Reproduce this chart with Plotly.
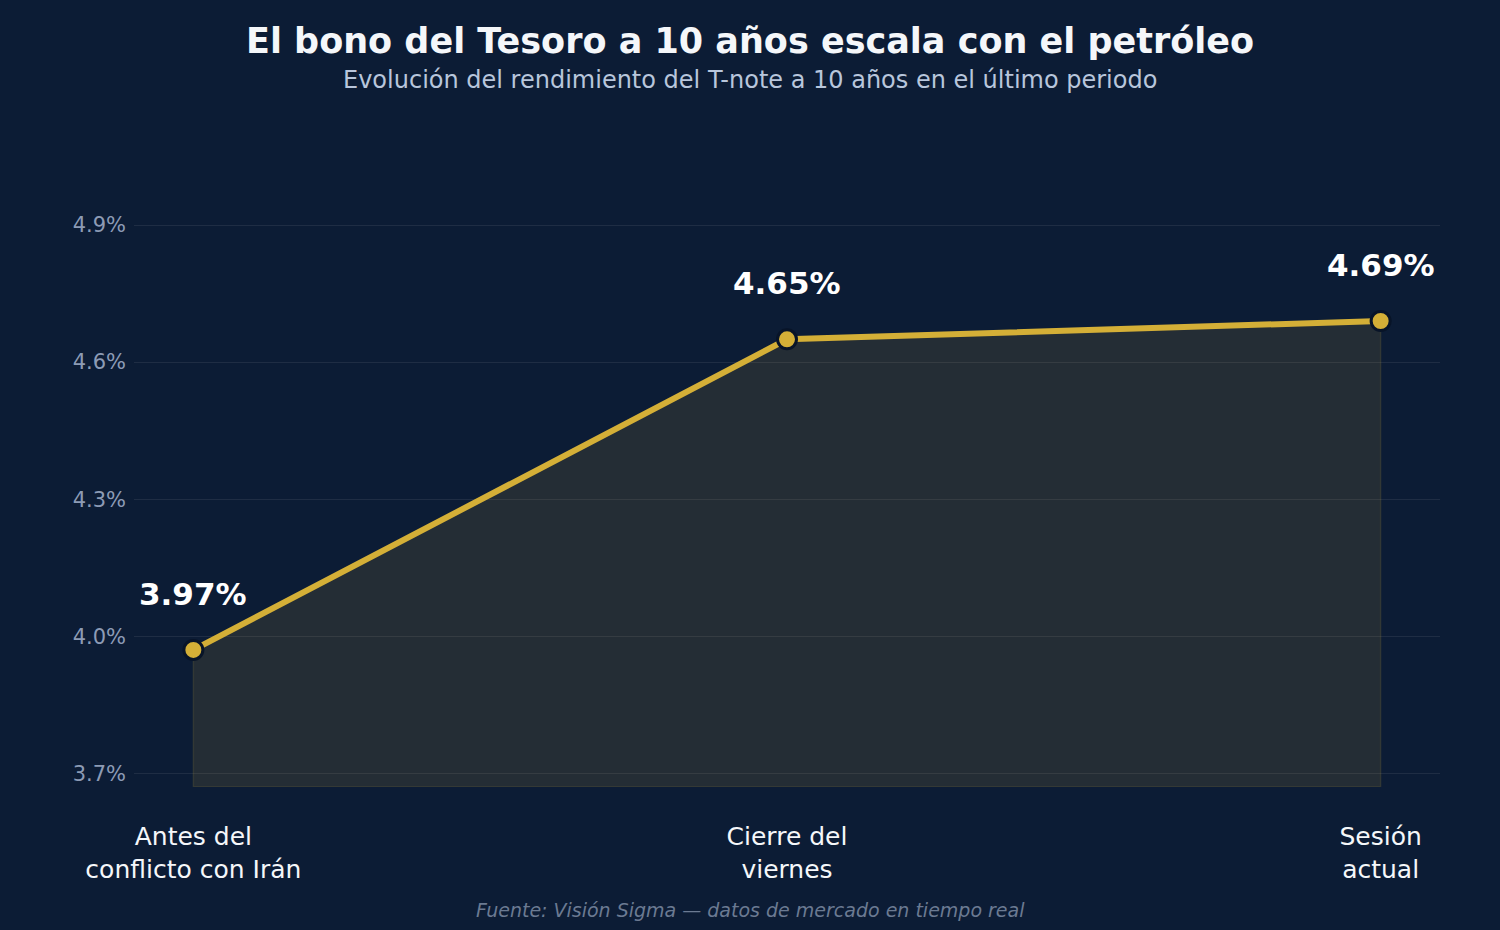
import plotly.graph_objects as go

categories = ["Antes del<br>conflicto con Irán", "Cierre del<br>viernes", "Sesión<br>actual"]
values = [3.97, 4.65, 4.69]
labels = ["3.97%", "4.65%", "4.69%"]
tick_vals = [3.7, 4.0, 4.3, 4.6, 4.9]
tick_text = ["3.7%", "4.0%", "4.3%", "4.6%", "4.9%"]
y_base = 3.67
y_top = 5.13

BG = "#0c1c35"
GOLD = "#d4af37"
FONT = "DejaVu Sans"

xs = list(range(len(categories)))

fig = go.Figure()

# filled area polygon
fig.add_trace(go.Scatter(
    x=xs + [xs[-1], xs[0], xs[0]],
    y=values + [y_base, y_base, values[0]],
    mode="lines",
    fill="toself",
    fillcolor="rgba(212,175,55,0.12)",
    line=dict(color="rgba(212,175,55,0.13)", width=1.5),
    hoverinfo="skip",
    showlegend=False,
))

fig.add_trace(go.Scatter(
    x=xs, y=values,
    mode="lines+markers",
    line=dict(color=GOLD, width=6),
    marker=dict(size=19, color=GOLD, line=dict(color="#081428", width=3)),
    showlegend=False,
))

for x, v, t in zip(xs, values, labels):
    fig.add_annotation(
        x=x, y=v, text=f"<b>{t}</b>", showarrow=False,
        yshift=56, font=dict(family=FONT, size=31, color="#ffffff"),
    )

# title / subtitle / footer (centred on the page, not the plot area)
fig.add_annotation(
    x=0.5, y=1, xref="paper", yref="paper", yanchor="middle", yshift=79, xshift=-37,
    text="<b>El bono del Tesoro a 10 años escala con el petróleo</b>",
    showarrow=False, font=dict(family=FONT, size=35, color="#f5f7fa"),
)
fig.add_annotation(
    x=0.5, y=1, xref="paper", yref="paper", yanchor="middle", yshift=40, xshift=-37,
    text="Evolución del rendimiento del T-note a 10 años en el último periodo",
    showarrow=False, font=dict(family=FONT, size=24, color="#b8c6dc"),
)
fig.add_annotation(
    x=0.5, y=0, xref="paper", yref="paper", yanchor="middle", yshift=-123, xshift=-37,
    text="<i>Fuente: Visión Sigma — datos de mercado en tiempo real</i>",
    showarrow=False, font=dict(family=FONT, size=19, color="#6b7a92"),
)

fig.update_layout(
    width=1500, height=930,
    paper_bgcolor=BG, plot_bgcolor=BG,
    margin=dict(l=134, r=60, t=120, b=143),
    font=dict(family=FONT),
    xaxis=dict(
        range=[-0.1, 2.1], tickvals=xs, ticktext=categories,
        showgrid=False, zeroline=False, showline=False,
        tickfont=dict(family=FONT, size=25, color="#f5f7fa"),
        ticks="", ticklabelstandoff=32,
    ),
    yaxis=dict(
        range=[y_base, y_top], tickvals=tick_vals, ticktext=tick_text,
        showgrid=True, gridcolor="rgba(255,255,255,0.08)", gridwidth=1,
        zeroline=False, showline=False,
        tickfont=dict(family=FONT, size=21, color="#8d9bb5"),
        ticks="", ticklabelstandoff=7,
    ),
)

fig.write_html(
    "out.html",
    config={"displayModeBar": False},
    post_script="document.body.style.margin='0';document.body.style.background='#0c1c35';",
)
